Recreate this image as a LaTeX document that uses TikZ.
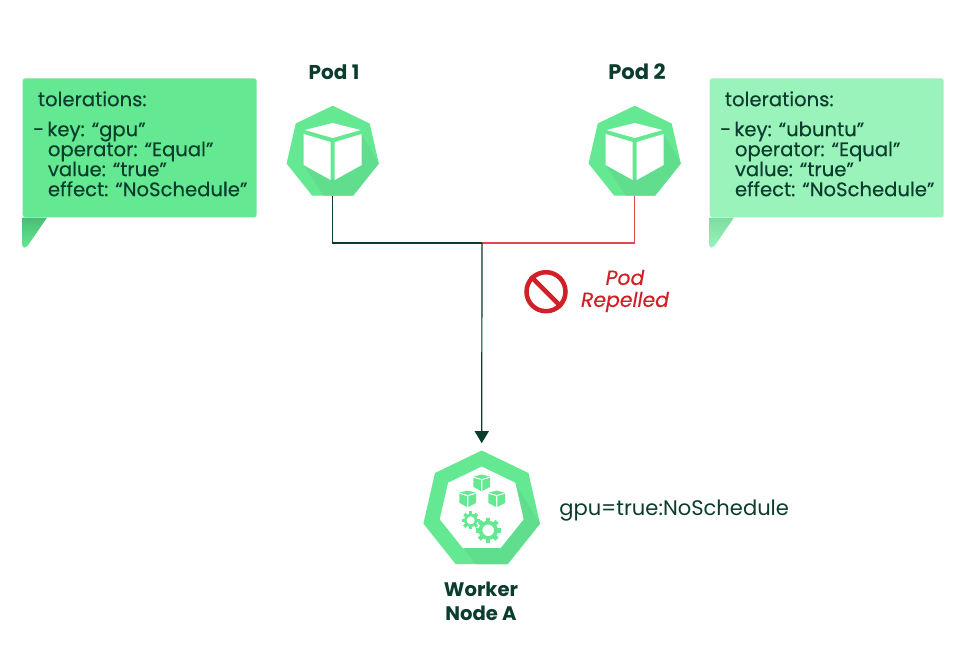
\documentclass[tikz,border=0pt]{standalone}
\usepackage{fontspec}
\setmainfont{Poppins}
\newfontfamily\medfont{Poppins}[FakeBold=0.3]
\usetikzlibrary{arrows.meta,positioning,calc,shapes.geometric}
\definecolor{podgreen}{HTML}{64E891}
\definecolor{podshade}{HTML}{60DD8D}
\definecolor{paleGreen}{HTML}{9AF3BA}
\definecolor{tailGreen}{HTML}{48BE75}
\definecolor{paleTail}{HTML}{7CDDA0}
\definecolor{inkgreen}{HTML}{0B3D2E}
\definecolor{repelred}{HTML}{CF2127}
\definecolor{linered}{HTML}{E2474C}
\tikzset{
  podshape/.style={regular polygon, regular polygon sides=7, fill=podgreen, minimum size=94.6*.75pt, inner sep=0pt, outer sep=0pt},
  workershape/.style={regular polygon, regular polygon sides=7, fill=podgreen, minimum size=119.6*.75pt, inner sep=0pt, outer sep=0pt},
  innershape/.style={regular polygon, regular polygon sides=7, fill=white, minimum size=86*.75pt, inner sep=0pt, outer sep=0pt},
  callbox/.style={rounded corners=2pt, minimum width=234*.75pt, minimum height=139*.75pt, inner sep=0pt},
  calltext/.style={align=left, anchor=north west, inner sep=0pt, text=inkgreen, font=\fontsize{14.7}{15}\selectfont\medfont},
  podlabel/.style={align=center, text=inkgreen, font=\fontsize{15}{18}\selectfont\bfseries},
  darkline/.style={draw=inkgreen, line width=.9pt},
  redline/.style={draw=linered, line width=.9pt},
  arrow/.style={-{Triangle[length=9pt,width=10.5pt]}, draw=inkgreen, fill=inkgreen, line width=.9pt},
  pics/cubeicon/.style={code={
    \fill[#1] (0,-30) -- (28,-23) -- (0,-15) -- (-28,-23) -- cycle;
    \fill[#1] (-29,-19) -- (-2,-11) -- (-2,27) -- (-29,12) -- cycle;
    \fill[#1] (2,-11) -- (29,-19) -- (29,12) -- (2,27) -- cycle;
  }},
  pics/podshadow/.style={code={
    \fill[podshade] (29,-19) -- (46.1,10.5) -- (20.5,42.6) -- (-9,42.6) -- (-29,12) -- (2,27) -- (29,12) -- cycle;
  }},
  pics/gearicon/.style={code={
    \foreach \ang in {0,45,...,315}
      \fill[podgreen, rotate=\ang] (-.18,.6) rectangle (.18,1);
    \draw[podgreen, line width=.3*#1*.75pt] (0,0) circle (.62);
  }}
}
\begin{document}
\begin{tikzpicture}[x=.75pt, y=-.75pt]
\useasboundingbox (0,0) rectangle (977,658);

\node[callbox, fill=podgreen] (callA) at (139.7,147.8) {};
\shade[top color=tailGreen, bottom color=podgreen] (callA.south west) [rounded corners=1.5pt] -- ($(callA.south west)+(0,30)$) -- ($(callA.south west)+(4,30)$) [sharp corners] -- ($(callA.south west)+(24.6,0)$) -- cycle;
\node[calltext] (textA) at (33,91) {\hspace*{3.5pt}tolerations:\\[7.5pt]-\hspace*{-1.5pt} key: “gpu”\\\hspace*{11pt}operator: “Equal”\\\hspace*{11pt}value: “true”\\\hspace*{11pt}effect: “NoSchedule”};

\node[callbox, fill=paleGreen] (callB) at (826.7,147.8) {};
\shade[top color=paleTail, bottom color=paleGreen] (callB.south west) [rounded corners=1.5pt] -- ($(callB.south west)+(0,30)$) -- ($(callB.south west)+(4,30)$) [sharp corners] -- ($(callB.south west)+(24.6,0)$) -- cycle;
\node[calltext] (textB) at (720,91) {\hspace*{3.5pt}tolerations:\\[7.5pt]-\hspace*{-1.5pt} key: “ubuntu”\\\hspace*{11pt}operator: “Equal”\\\hspace*{11pt}value: “true”\\\hspace*{11pt}effect: “NoSchedule”};

\node[podshape] (pod1) at (332.7,153) {};
\node[podshape] (pod2) at (634.7,153) {};
\node[workershape] (worker) at (481.7,510.3) {};
\node[podlabel] (labelA) at (334,72) {Pod 1};
\node[podlabel, font=\fontsize{15.8}{18}\selectfont\bfseries] (labelB) at (637,72) {Pod 2};

\pic at (pod1.center) {podshadow};
\pic at (pod2.center) {podshadow};
\pic at (pod1.center) {cubeicon=white};
\pic at (pod2.center) {cubeicon=white};

\fill[podshade] (worker.center) ++(33.6,-26.8) -- ++(24.7,40.1) -- ++(-32.4,40.6) -- ++(-31.7,0) -- ++(-12.2,-16.2) -- ++(36.4,0) -- ++(23.2,-29) -- cycle;
\node[innershape] (inner) at (481.7,509.6) {};
\fill[podshade] (worker.center) ++(-17.7,37.7) -- ++(36,0) -- ++(7.6,16.2) -- ++(-31.7,0) -- cycle;
\pic[scale=.29] at ($(worker.center)+(0,-27)$) {cubeicon=podgreen};
\pic[scale=.29] at ($(worker.center)+(-14,-11)$) {cubeicon=podgreen};
\pic[scale=.29] at ($(worker.center)+(15,-11)$) {cubeicon=podgreen};
\pic[scale=9] at ($(worker.center)+(-11,10)$) {gearicon=9};
\pic[scale=12.5] at ($(worker.center)+(6.5,20)$) {gearicon=12.5};

\coordinate (joint) at (482,243);
\draw[redline] (pod2.south) |- (joint);
\draw[darkline] (pod1.south) |- (joint);
\draw[arrow, shorten >=5.5pt] (joint) -- (worker.north);

\node[draw=repelred, line width=3.4pt, circle, minimum size=39*.75pt, inner sep=0pt] (stopsign) at (546,291.7) {};
\draw[repelred, line width=3.4pt] (stopsign.north west) -- (stopsign.south east);
\node[align=center, text=repelred, font=\fontsize{15.3}{16.5}\selectfont\medfont\itshape] (repel) at (625,291) {Pod\\Repelled};

\node[anchor=west, inner sep=0pt, text=inkgreen, font=\fontsize{15.8}{16}\selectfont] (taint) at (559,511) {gpu=true:NoSchedule};
\node[podlabel, font=\fontsize{14.7}{18}\selectfont\bfseries] (workerlabel) at (481,601) {Worker\\Node A};
\end{tikzpicture}
\end{document}
